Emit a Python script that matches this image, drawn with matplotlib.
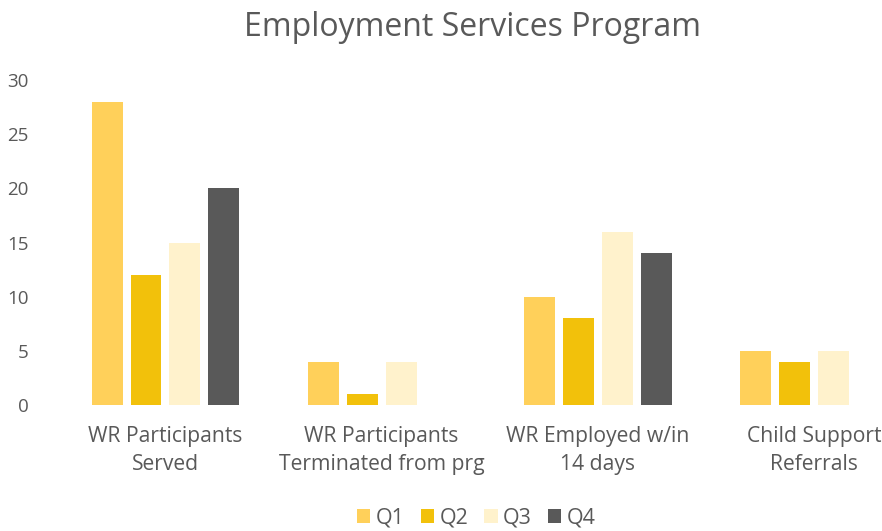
import matplotlib.pyplot as plt
import numpy as np

categories = ['WR Participants\nServed', 'WR Participants\nTerminated from prg',
              'WR Employed w/in\n14 days', 'Child Support\nReferrals']
series = ['Q1', 'Q2', 'Q3', 'Q4']
q1 = [28, 4, 10, 5]
q2 = [12, 1, 8, 4]
q3 = [15, 4, 16, 5]
q4 = [20, 0, 14, 0]
colors = ['#FFD05A', '#F2C10B', '#FFF2CC', '#595959']
text_color = '#595959'
font = 'Open Sans'

###############################################################################

fig = plt.figure(figsize=(8.82, 5.31), dpi=100)
ax = fig.add_axes([45 / 882, 126 / 531, 837 / 882, 325 / 531])

x = np.arange(len(categories))
width = 0.143
step = 0.18
for i, (name, vals) in enumerate(zip(series, [q1, q2, q3, q4])):
    ax.bar(x + (i - 1.5) * step, vals, width, color=colors[i], label=name)

ax.set_xlim(-0.557, 3.314)
ax.set_ylim(0, 30)
ax.set_yticks(range(0, 31, 5))
ax.set_xticks(x)
ax.set_xticklabels(categories, fontname=font, fontsize=15.2, color=text_color,
                   linespacing=1.45)
for lab in ax.get_yticklabels():
    lab.set_fontname(font)
    lab.set_fontsize(13.5)
    lab.set_color(text_color)
ax.tick_params(axis='x', length=0, pad=15)
ax.tick_params(axis='y', length=0, pad=12)
for s in ax.spines.values():
    s.set_visible(False)

fig.text(0.536, 0.949, 'Employment Services Program', ha='center', va='center',
         fontname=font, fontsize=23, color=text_color)

fig.legend(loc='center', bbox_to_anchor=(0.54, 0.025), ncol=4, frameon=False,
           prop={'family': font, 'size': 15.5}, labelcolor=text_color,
           handlelength=0.62, handleheight=0.62, handletextpad=0.25,
           columnspacing=0.75)

fig.savefig('out.png', dpi=100, facecolor='white')
